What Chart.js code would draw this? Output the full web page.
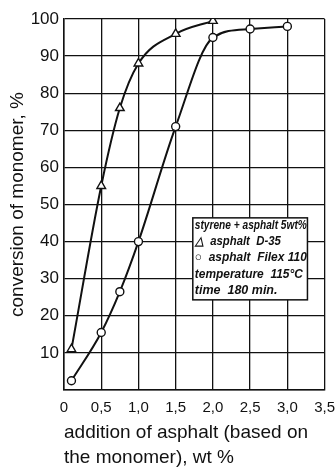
<!DOCTYPE html>
<html>
<head>
<meta charset="utf-8">
<script src="https://cdn.jsdelivr.net/npm/chart.js@4.4.1/dist/chart.umd.min.js"></script>
<style>
html,body{margin:0;padding:0;background:#fff;}
#wrap{width:335px;height:472px;position:relative;}
</style>
</head>
<body>
<div id="wrap"><canvas id="c"></canvas></div>
<script>
// Data
const d35X = [0.1, 0.5, 0.75, 1.0, 1.5, 2.0];
const d35Y = [11, 55, 76, 88, 96, 99.5];
const filexX = [0.1, 0.5, 0.75, 1.0, 1.5, 2.0, 2.5, 3.0];
const filexY = [2.5, 15.5, 26.5, 40, 71, 95, 97.3, 98];
const xTicks = [0, 0.5, 1.0, 1.5, 2.0, 2.5, 3.0, 3.5];
const yTicks = [10, 20, 30, 40, 50, 60, 70, 80, 90, 100];
const legendLines = ["styrene + asphalt 5wt%", "\u25B3  asphalt  D-35", "\u25CB  asphalt  Filex 110", "temperature  115\u00B0C", "time  180 min."];
const legendWidths = [112, 86, 112, 108, 90];
const yTitle = "conversion of monomer, %";
const xTitle = ["addition of asphalt (based on", "the monomer), wt %"];

const toPts = (xs, ys) => xs.map((x, i) => ({x: x, y: ys[i]}));
const FONT = "'Liberation Sans', Arial, sans-serif";
const INK = '#111';

const legendBox = {
  id: 'legendBox',
  afterDraw(chart) {
    const {ctx, scales: {x, y}} = chart;
    const l = x.getPixelForValue(1.73), r = x.getPixelForValue(3.27);
    const t = y.getPixelForValue(46.4), b = y.getPixelForValue(24.3);
    ctx.save();
    ctx.fillStyle = '#fff';
    ctx.fillRect(l, t, r - l, b - t);
    ctx.strokeStyle = INK;
    ctx.lineWidth = 1.5;
    ctx.strokeRect(l, t, r - l, b - t);
    ctx.fillStyle = INK;
    ctx.font = "italic bold 12.5px " + FONT;
    ctx.textBaseline = 'middle';
    const step = (b - t) / legendLines.length;
    legendLines.forEach((s, i) => {
      ctx.fillText(s, l + 2, t + step * (i + 0.5) - 1, legendWidths[i]);
    });
    ctx.restore();
  }
};

new Chart(document.getElementById('c'), {
  type: 'scatter',
  data: {
    datasets: [
      {
        label: 'asphalt D-35',
        data: toPts(d35X, d35Y),
        showLine: true,
        borderColor: INK,
        borderWidth: 2,
        cubicInterpolationMode: 'monotone',
        pointStyle: 'triangle',
        pointRadius: 5,
        pointBackgroundColor: '#fff',
        pointBorderColor: INK,
        pointBorderWidth: 1.4
      },
      {
        label: 'asphalt Filex 110',
        data: toPts(filexX, filexY),
        showLine: true,
        borderColor: INK,
        borderWidth: 2,
        cubicInterpolationMode: 'monotone',
        pointStyle: 'circle',
        pointRadius: 4,
        pointBackgroundColor: '#fff',
        pointBorderColor: INK,
        pointBorderWidth: 1.4
      }
    ]
  },
  options: {
    responsive: true,
    maintainAspectRatio: false,
    animation: false,
    layout: {padding: {top: 19, right: 0, left: 0, bottom: 0}},
    plugins: {legend: {display: false}, tooltip: {enabled: false}},
    scales: {
      x: {
        type: 'linear',
        min: 0, max: 3.5,
        afterBuildTicks(s) { s.ticks = xTicks.map(v => ({value: v})); },
        afterFit(s) { s.height = 82; },
        grid: {color: INK, lineWidth: 1.3, drawTicks: true, tickLength: 9, tickColor: 'rgba(0,0,0,0)'},
        border: {color: INK, width: 1.5},
        ticks: {
          color: INK, padding: 0, maxRotation: 0, autoSkip: false,
          font: {family: FONT, size: 15},
          callback: v => v === 0 ? '0' : v.toFixed(1).replace('.', ',')
        },
        title: {
          display: true, text: xTitle, align: 'start', color: INK,
          font: {family: FONT, size: 19, lineHeight: 1.35},
          padding: {top: 0, bottom: 1}
        }
      },
      y: {
        min: 0, max: 100,
        afterBuildTicks(s) { s.ticks = [0].concat(yTicks).map(v => ({value: v})); },
        afterFit(s) { s.width = 64; },
        grid: {color: INK, lineWidth: 1.3, drawTicks: false},
        border: {color: INK, width: 1.5},
        ticks: {
          color: INK, padding: 5,
          font: {family: FONT, size: 17},
          callback: v => v === 0 ? '' : String(v)
        },
        title: {
          display: true, text: yTitle, color: INK,
          font: {family: FONT, size: 19},
          padding: {top: 6, bottom: 0}
        }
      }
    }
  },
  plugins: [legendBox]
});
</script>
</body>
</html>
